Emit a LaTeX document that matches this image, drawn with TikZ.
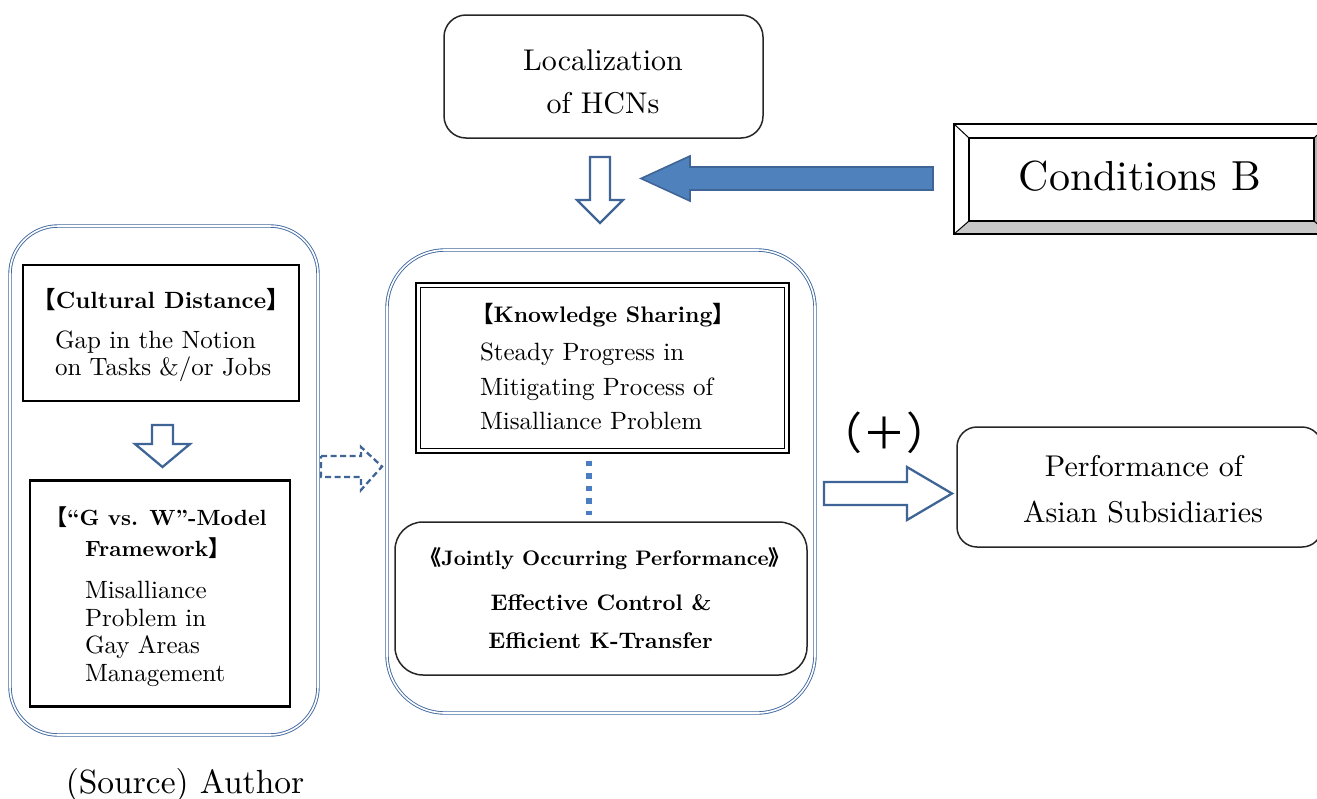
\documentclass[tikz,border=0pt]{standalone}
\usepackage{fontspec}
% fixed 10pt design size at every size, so wide text stays wide
\setmainfont{lmroman10}[Extension=.otf, UprightFont=*-regular, BoldFont=*-bold,
  ItalicFont=*-italic, BoldItalicFont=*-bolditalic]
\newfontfamily\cjk{Noto Sans CJK JP}
\usetikzlibrary{calc}
\definecolor{arrowblue}{HTML}{3F6596}
\definecolor{fillblue}{HTML}{4F81BD}
\definecolor{frameblue}{HTML}{4169A0}
\definecolor{dotblue}{HTML}{4A7EC2}
\definecolor{bevelgray}{HTML}{C8C8C8}
\definecolor{bevelside}{HTML}{B4B4B4}

\begin{document}
\begin{tikzpicture}[x=1pt,y=-1pt,
  every node/.style={outer sep=0pt},
  body/.style={font=\fontsize{25}{27}\selectfont, inner sep=0pt},
  big/.style={font=\fontsize{30}{36}\selectfont, inner sep=0pt},
  heading/.style={font=\fontsize{22.5}{24}\selectfont\bfseries, inner sep=0pt},
  roundbox/.style={draw=black!85, line width=1.5pt, rounded corners=#1, inner sep=0pt},
  plainbox/.style={draw=black, line width=2.3pt, inner sep=0pt},
  container/.style={draw=frameblue, double=white, double distance=1.6pt,
    line width=0.9pt, rounded corners=#1, inner sep=0pt},
  hollow/.style={draw=arrowblue, fill=white, line width=2.3pt},
  solidarrow/.style={draw=arrowblue, fill=fillblue, line width=1.6pt},
  dots/.style={draw=dotblue, line width=5.5pt, dash pattern=on 5.5pt off 7pt}
]
\useasboundingbox (0,0) rectangle (1317,798);

% ---------- top: localization of HCNs ----------
\node[roundbox=22pt, minimum width=319, minimum height=123] (loc) at (603.5,76.5) {};
\node[big, anchor=base] (locA) at (603,70) {Localization};
\node[big, anchor=base] (locB) at (603,113) {of HCNs};

% hollow arrow below it
\draw[hollow] (590,157) -- (610,157) -- (610,200) -- (623,200) -- (600,223)
  -- (577,200) -- (590,200) -- cycle;

% ---------- Conditions B (bevelled frame) ----------
\node[minimum width=345, minimum height=83, inner sep=0pt] (cond) at (1141.5,179.5) {};
\coordinate (cOnw) at ($(cond.north west)+(-15,-14)$);
\coordinate (cOne) at ($(cond.north east)+(15,-14)$);
\coordinate (cOsw) at ($(cond.south west)+(-15,13)$);
\coordinate (cOse) at ($(cond.south east)+(15,13)$);
\fill[bevelgray] (cOsw) -- (cOse) -- (cond.south east) -- (cond.south west) -- cycle;
\fill[bevelside] (cOne) -- (cOse) -- (cond.south east) -- (cond.north east) -- cycle;
\draw[line width=1.4pt] (cOnw) rectangle (cOse);
\draw[line width=1.4pt] (cond.north west) rectangle (cond.south east);
\draw[line width=1pt] (cOnw) -- (cond.north west) (cOne) -- (cond.north east)
  (cOsw) -- (cond.south west) (cOse) -- (cond.south east);
\node[font=\fontsize{42}{48}\selectfont, inner sep=0pt, anchor=base] (condT) at (1140,190) {Conditions B};

% solid arrow from Conditions B towards the hollow arrow
\draw[solidarrow] (641,178.5) -- (690,156) -- (690,167) -- (933,167) -- (933,190)
  -- (690,190) -- (690,201) -- cycle;

% ---------- left container ----------
\node[container=48pt, minimum width=308, minimum height=509] (left) at (164,480.5) {};

\node[plainbox, minimum width=276, minimum height=136] (cult) at (161,333) {};
\node[heading, font=\fontsize{23.5}{25}\selectfont\bfseries, anchor=base] (cultT) at (161,308)
  {{\cjk 【}Cultural Distance{\cjk 】}};
\node[body, anchor=base west] (cultA) at (55,348) {Gap in the Notion};
\node[body, anchor=base west] (cultB) at (55,375) {on Tasks \&/or Jobs};

\draw[hollow] (152,425) -- (173,425) -- (173,444) -- (190,444) -- (162.5,467)
  -- (135,444) -- (152,444) -- cycle;

\node[plainbox, minimum width=260, minimum height=226] (gw) at (160,593.5) {};
\node[heading, font=\fontsize{22}{24}\selectfont\bfseries, anchor=base west] (gwT1) at (45,525)
  {{\cjk 【}“G vs. W”-Model};
\node[heading, font=\fontsize{22}{24}\selectfont\bfseries, anchor=base west] (gwT2) at (85,556)
  {Framework{\cjk 】}};
\node[body, anchor=base west] (gwA) at (85,598) {Misalliance};
\node[body, anchor=base west] (gwB) at (85,626) {Problem in};
\node[body, anchor=base west] (gwC) at (85,653) {Gay Areas};
\node[body, anchor=base west] (gwD) at (85,681) {Management};

\node[font=\fontsize{33.5}{38}\selectfont, inner sep=0pt, anchor=base] (src) at (185,793) {(Source) Author};

% dashed arrow between the containers
\draw[hollow, dash pattern=on 6pt off 3.5pt] (321,456) -- (361,456) -- (361,447)
  -- (382,466.5) -- (361,490) -- (361,477) -- (321,477) -- cycle;

% ---------- centre container ----------
\node[container=58pt, minimum width=428, minimum height=463] (cen) at (601,481.5) {};

\node[draw=black, line width=2.5pt, minimum width=373, minimum height=170, inner sep=0pt]
  (ks) at (602.5,368) {};
\node[draw=black, line width=0.9pt, minimum width=364, minimum height=161, inner sep=0pt]
  (ksIn) at (602.5,368) {};
\node[heading, anchor=base] (ksT) at (603,322) {{\cjk 【}Knowledge Sharing{\cjk 】}};
\node[body, anchor=base west] (ksA) at (480,360) {Steady Progress in};
\node[body, anchor=base west] (ksB) at (480,395) {Mitigating Process of};
\node[body, anchor=base west] (ksC) at (480,429) {Misalliance Problem};

\node[roundbox=28pt, minimum width=412, minimum height=153] (jo) at (601,598.5) {};
\node[font=\fontsize{21}{24}\selectfont\bfseries, inner sep=0pt, anchor=base] (joT) at (605,565)
  {{\cjk 《}Jointly Occurring Performance{\cjk 》}};
\node[heading, anchor=base] (joA) at (601,610) {Effective Control \&};
\node[heading, anchor=base] (joB) at (600.5,648) {Efficient K-Transfer};

% dotted link between the two inner boxes
\draw[dots, shorten <=7.5pt, shorten >=7.5pt] ([xshift=-13.5pt]ks.south) -- ([xshift=-12pt]jo.north);

% ---------- result ----------
\draw[hollow] (824,482) -- (907,482) -- (907,467) -- (952,493.5) -- (907,520)
  -- (907,505) -- (824,505) -- cycle;
\node[font=\fontsize{44}{50}\cjk, inner sep=0pt] (plus) at (884,433) {（＋）};

\node[roundbox=20pt, minimum width=365, minimum height=120] (perf) at (1139.5,487) {};
\node[big, anchor=base] (perfA) at (1144,476) {Performance of};
\node[big, anchor=base] (perfB) at (1143,522) {Asian Subsidiaries};
\end{tikzpicture}
\end{document}
